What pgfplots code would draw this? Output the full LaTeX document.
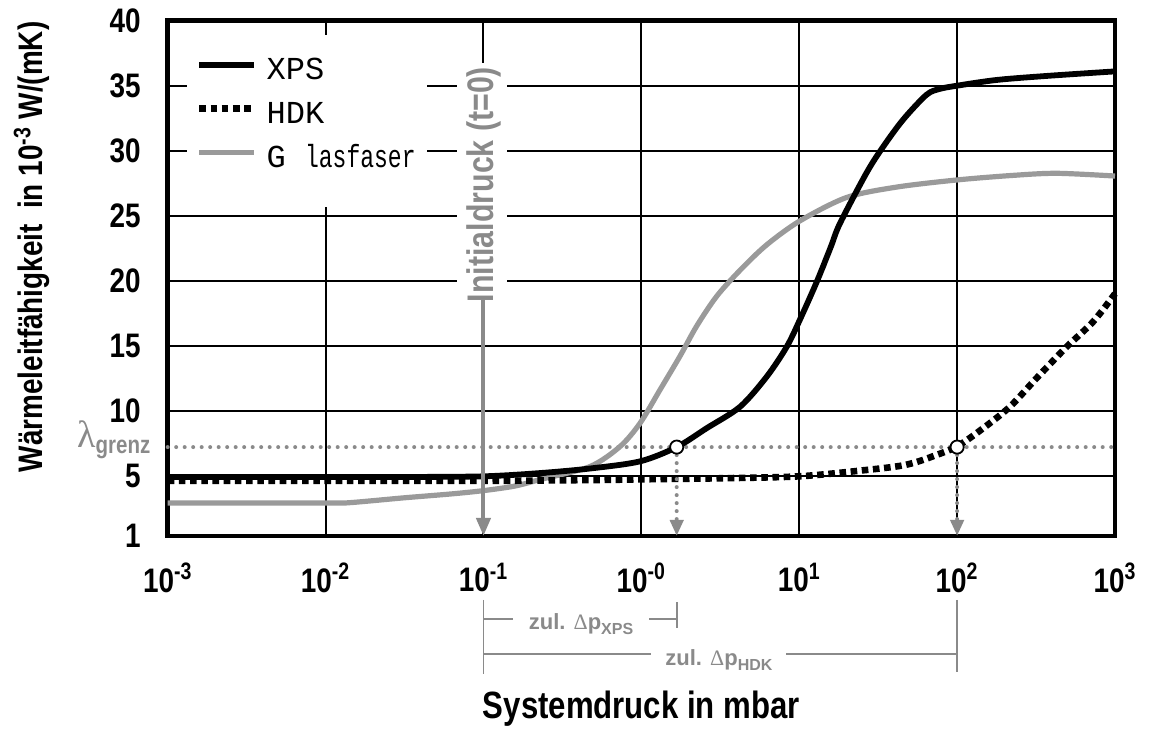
\documentclass[border=0pt]{standalone}
\usepackage{fontspec}
\setmainfont{Liberation Sans}[FakeStretch=0.82]
\newfontfamily\plainsans{Liberation Sans}
\newfontfamily\legfont{Liberation Mono}
\newfontfamily\symfont{Liberation Serif}
\usepackage{pgfplots}
\pgfplotsset{compat=1.18}
\usetikzlibrary{arrows.meta}
\definecolor{glas}{HTML}{9A9A9A}
\definecolor{annot}{HTML}{8A8A8A}

\newcommand{\zul}[1]{{\plainsans\bfseries zul. }{\symfont\mdseries Δ}{\plainsans\bfseries p\raisebox{-2.5pt}{\fontsize{8}{8}\selectfont #1}}}

\begin{document}
\begin{tikzpicture}
\begin{axis}[
    name=ax,
    xmode=log,
    scale only axis,
    width=473.65pt, height=257.65pt,
    xmin=1e-3, xmax=1e3, ymin=0.36, ymax=40,
    xtick={1e-3,1e-2,1e-1,1,10,100,1000},
    xticklabels={10\textsuperscript{-3},10\textsuperscript{-2},10\textsuperscript{-1},10\textsuperscript{-0},10\textsuperscript{1},10\textsuperscript{2},10\textsuperscript{3}},
    ytick={0.36,5,10,15,20,25,30,35,40},
    yticklabels={1,5,10,15,20,25,30,35,40},
    major tick length=0pt, minor tick length=0pt,
    grid=major,
    grid style={black, line width=1pt},
    axis line style={line width=2.2pt},
    ticklabel style={font=\bfseries\fontsize{17}{17}\selectfont},
    xticklabel style={yshift=-10pt},
    yticklabel style={xshift=-10pt},
    clip=false,
    legend style={draw=none, fill=none, at={(rel axis cs:0.0295,0.925)}, anchor=north west,
        inner sep=0pt, row sep=9pt, column sep=4.5pt,
        nodes={inner sep=0pt, text height=10pt, text depth=3pt},
        font=\legfont\fontsize{16}{16}\selectfont},
    legend cell align=left,
    legend image code/.code={\draw[#1, line cap=butt] (0pt,4pt) -- (27.5pt,4pt);},
]

% weisse Flaechen (Legende, Beschriftung Initialdruck)
\fill[white] (axis cs:1.324e-3,25.67) rectangle (axis cs:4.385e-2,38.9);
\fill[white] (axis cs:6.79e-2,18.52) rectangle (axis cs:0.141,36.75);

% lambda_grenz
\addplot[annot, line width=2pt, line cap=round, dash pattern=on 0pt off 4.25pt, forget plot]
coordinates {(1e-3,7.2) (1e3,7.2)};

% Glasfaser
\addplot[glas, line width=2.6pt, smooth, forget plot] coordinates {
(1e-3,2.9) (1e-2,2.9) (1.41e-2,2.92) (3.16e-2,3.3) (6.31e-2,3.6) (0.1,3.85)
(0.158,4.2) (0.228,4.7) (0.472,5.7) (0.731,7.23) (0.98,9.03) (1.312,11.6)
(1.758,14.2) (2.239,16.5) (3.0,18.8) (4.217,20.8) (6.21,22.75) (10.1,24.6)
(19.95,26.4) (41.4,27.2) (100,27.75) (226,28.1) (427,28.26) (1000,28.05)
};

% XPS
\addplot[black, line width=2.9pt, smooth] coordinates {
(1e-3,4.9) (1e-2,4.9) (3.16e-2,4.9) (0.1,4.95) (0.228,5.2) (0.472,5.55)
(0.98,6.1) (1.675,7.2) (2.59,8.65) (4.22,10.3) (6.21,12.6) (8.32,14.9)
(10.1,17.0) (12.9,19.9) (15.85,22.6) (18.1,24.4) (26.7,28.3) (34.0,30.3)
(45.6,32.4) (64.0,34.3) (77.6,34.75) (100,35.0) (177.8,35.44) (369,35.75) (1000,36.1)
};
\addlegendentry{XPS}

% HDK
\addplot[black, line width=3.3pt, dash pattern=on 3.3pt off 2.3pt, smooth] coordinates {
(1e-3,4.6) (1e-2,4.6) (0.1,4.6) (0.547,4.67) (1.0,4.72) (3.16,4.8) (10,4.95)
(26.7,5.44) (43.4,5.75) (55.3,6.05) (70.6,6.5) (100,7.25) (146.2,8.65)
(215.8,10.3) (318.4,12.5) (493,14.9) (727.8,16.85) (1000,19.0)
};
\addlegendentry{HDK}

\addlegendimage{glas, line width=2.6pt}
\addlegendentry{G {\addfontfeature{FakeStretch=0.72}lasfaser}}

% Pfeile
\addplot[annot, line width=2pt, -{Triangle[length=9pt,width=7pt]}, forget plot]
coordinates {(0.1,18.5) (0.1,0.36)};
\addplot[annot, line width=2pt, line cap=round, dash pattern=on 0pt off 4pt,
    -{Triangle[length=8pt,width=6.5pt]}, forget plot]
coordinates {(1.675,7.2) (1.675,0.36)};
\addplot[annot, line width=2pt, line cap=round, dash pattern=on 0pt off 4pt,
    -{Triangle[length=8pt,width=6.5pt]}, forget plot]
coordinates {(100,7.2) (100,0.36)};

% Schnittpunkte
\addplot[only marks, mark=*, mark size=3.3pt,
    mark options={fill=white, draw=black, line width=0.9pt}, forget plot]
coordinates {(1.675,7.2) (100,7.2)};

% Beschriftungen
\node[rotate=90, annot, font=\bfseries\fontsize{18.5}{18.5}\selectfont] at (axis cs:0.1,27.4) {Initialdruck (t=0)};
\node[anchor=base east, annot, inner sep=0pt, xshift=-8.5pt] at (axis cs:1e-3,7.2)
    {{\symfont\fontsize{19}{19}\selectfont λ}\raisebox{-3pt}{\bfseries\fontsize{12.5}{12.5}\selectfont grenz}};

% zulaessige Druckbereiche
\draw[annot, line width=0.9pt] (axis cs:0.1,-4.56) -- (axis cs:0.1,-10.22);
\draw[annot, line width=0.9pt] (axis cs:1.675,-4.72) -- (axis cs:1.675,-6.72);
\draw[annot, line width=0.9pt] (axis cs:100,-4.56) -- (axis cs:100,-10.1);
\draw[annot, line width=0.9pt] (axis cs:0.1,-6.02) -- (axis cs:1.675,-6.02);
\draw[annot, line width=0.9pt] (axis cs:0.1,-8.72) -- (axis cs:100,-8.72);
\node[annot, fill=white, anchor=base, inner xsep=8pt, inner ysep=1pt, yshift=-5.5pt,
    font=\fontsize{11}{11}\selectfont] at (axis cs:0.415,-6.02) {\zul{XPS}};
\node[annot, fill=white, anchor=base, inner xsep=7pt, inner ysep=1pt, yshift=-5.5pt,
    font=\fontsize{11}{11}\selectfont] at (axis cs:3.1,-8.72) {\zul{HDK}};

% Achsentitel
\node[rotate=90, font=\bfseries\fontsize{17}{17}\selectfont] at (rel axis cs:-0.1433,0.561)
    {Wärmeleitfähigkeit\ \ in 10\textsuperscript{-3} W/(mK)};
\node[anchor=base, yshift=-91.5pt, font=\bfseries\fontsize{19}{19}\selectfont] at (rel axis cs:0.5,0)
    {Systemdruck in mbar};
\end{axis}
\pgfresetboundingbox
\path[use as bounding box] (ax.south west) ++(-83.85pt,-97.5pt) rectangle ++(575pt,365.5pt);
\end{tikzpicture}
\end{document}
